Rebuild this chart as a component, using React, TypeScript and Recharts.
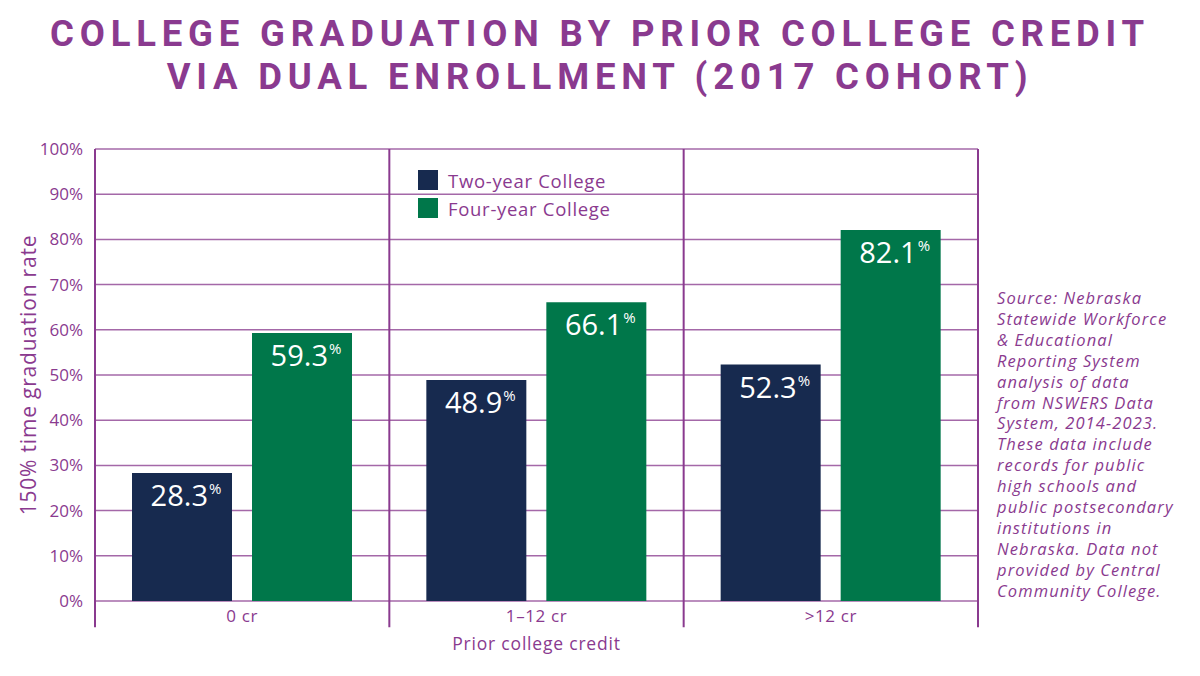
import React from 'react';
import {
  BarChart,
  Bar,
  XAxis,
  YAxis,
  CartesianGrid,
  Legend,
  ReferenceLine
} from 'recharts';

const categories = ['0 cr', '1–12 cr', '>12 cr'];
const twoYear = [28.3, 48.9, 52.3];
const fourYear = [59.3, 66.1, 82.1];
const yTicks = [0, 10, 20, 30, 40, 50, 60, 70, 80, 90, 100];
const titleLines = [
  'COLLEGE GRADUATION BY PRIOR COLLEGE CREDIT',
  'VIA DUAL ENROLLMENT (2017 COHORT)'
];
const sourceLines = [
  'Source: Nebraska',
  'Statewide Workforce',
  '& Educational',
  'Reporting System',
  'analysis of data',
  'from NSWERS Data',
  'System, 2014-2023.',
  'These data include',
  'records for public',
  'high schools and',
  'public postsecondary',
  'institutions in',
  'Nebraska. Data not',
  'provided by Central',
  'Community College.'
];

const PURPLE = '#8a3a8f';
const GRID = '#a468a8';
const NAVY = '#172a4f';
const GREEN = '#00774a';
const FONT = '"Open Sans", sans-serif';

const data = categories.map((c, i) => ({
  cat: c,
  two: twoYear[i],
  four: fourYear[i]
}));

// band edges: start of every category, plus the end of the last one
const dividers = [
  ...categories.map((c) => ({ cat: c, pos: 'start' })),
  { cat: categories[categories.length - 1], pos: 'end' }
];

if (typeof document !== 'undefined') document.body.style.margin = '0';

const ValueLabel = (props: any) => {
  const { x, y, width, value } = props;
  return (
    <text
      x={x + width / 2 + 4}
      y={y + 33}
      textAnchor="middle"
      fill="#fff"
      fontFamily={FONT}
      fontWeight={500}
    >
      <tspan fontSize={29}>{value.toFixed(1)}</tspan>
      <tspan fontSize={15} dy={-12} dx={1}>%</tspan>
    </text>
  );
};

const YLabel = (props: any) => {
  const { viewBox } = props;
  const cx = 36;
  const cy = viewBox.y + viewBox.height / 2;
  return (
    <text
      x={cx}
      y={cy}
      transform={`rotate(-90, ${cx}, ${cy})`}
      textAnchor="middle"
      fill={PURPLE}
      fontFamily={FONT}
      fontSize={21}
      fontWeight={500}
      letterSpacing={0.8}
    >
      150% time graduation rate
    </text>
  );
};

const LegendBox = () => {
  const items = [
    { name: 'Two-year College', color: NAVY },
    { name: 'Four-year College', color: GREEN }
  ];
  return (
    <div>
      {items.map((it) => (
        <div
          key={it.name}
          style={{ display: 'flex', alignItems: 'center', height: 28 }}
        >
          <div style={{ width: 20, height: 20, background: it.color, marginRight: 10 }} />
          <span style={{ color: PURPLE, fontFamily: FONT, fontSize: 18.5, letterSpacing: 0.7, fontWeight: 500 }}>
            {it.name}
          </span>
        </div>
      ))}
    </div>
  );
};

export default function App() {
  return (
    <div style={{ position: 'relative', width: 1200, height: 676, background: '#fff' }}>
      {titleLines.map((l, i) => (
        <div
          key={l}
          style={{
            position: 'absolute',
            top: 13 + i * 43,
            left: 0,
            width: 1200,
            textAlign: 'center',
            color: PURPLE,
            fontFamily: 'Roboto, sans-serif',
            fontWeight: 700,
            fontSize: 36.5,
            letterSpacing: 5.8,
            lineHeight: '42px'
          }}
        >
          {l}
        </div>
      ))}
      <BarChart
        width={1200}
        height={676}
        data={data}
        margin={{ top: 149, right: 222, bottom: 0, left: 0 }}
        barCategoryGap={37}
        barGap={20}
      >
        <CartesianGrid vertical={false} stroke={GRID} strokeWidth={1.5} />
        <XAxis
          dataKey="cat"
          height={75}
          axisLine={false}
          tickLine={false}
          tickSize={0}
          tickMargin={9}
          tick={{ fill: PURPLE, fontFamily: FONT, fontSize: 17, letterSpacing: 0.6 }}
          label={{
            value: 'Prior college credit',
            position: 'insideBottom',
            offset: 26,
            fill: PURPLE,
            fontFamily: FONT,
            fontSize: 17.5,
            letterSpacing: 0.8
          }}
        />
        <YAxis
          width={95}
          domain={[0, 100]}
          ticks={yTicks}
          interval={0}
          axisLine={false}
          tickLine={false}
          tickSize={0}
          tickMargin={12}
          tickFormatter={(v) => `${v}%`}
          tick={{ fill: PURPLE, fontFamily: FONT, fontSize: 17 }}
          label={<YLabel />}
        />
        {dividers.map((d) => (
          <ReferenceLine
            key={d.cat + d.pos}
            position={d.pos as any}
            segment={[
              { x: d.cat, y: 100 },
              { x: d.cat, y: -5.8 }
            ]}
            ifOverflow="visible"
            stroke={PURPLE}
            strokeWidth={2}
          />
        ))}
        <Legend
          layout="vertical"
          verticalAlign="middle"
          align="center"
          wrapperStyle={{ left: 418, top: 166, width: 260 }}
          content={<LegendBox />}
        />
        <Bar dataKey="two" name="Two-year College" fill={NAVY} isAnimationActive={false} label={<ValueLabel />} />
        <Bar dataKey="four" name="Four-year College" fill={GREEN} isAnimationActive={false} label={<ValueLabel />} />
      </BarChart>
      <div
        style={{
          position: 'absolute',
          left: 997,
          top: 288,
          color: PURPLE,
          fontFamily: FONT,
          fontStyle: 'italic',
          fontSize: 16.5,
          letterSpacing: 1.1,
          lineHeight: '20.9px'
        }}
      >
        {sourceLines.map((l) => (
          <div key={l}>{l}</div>
        ))}
      </div>
    </div>
  );
}
